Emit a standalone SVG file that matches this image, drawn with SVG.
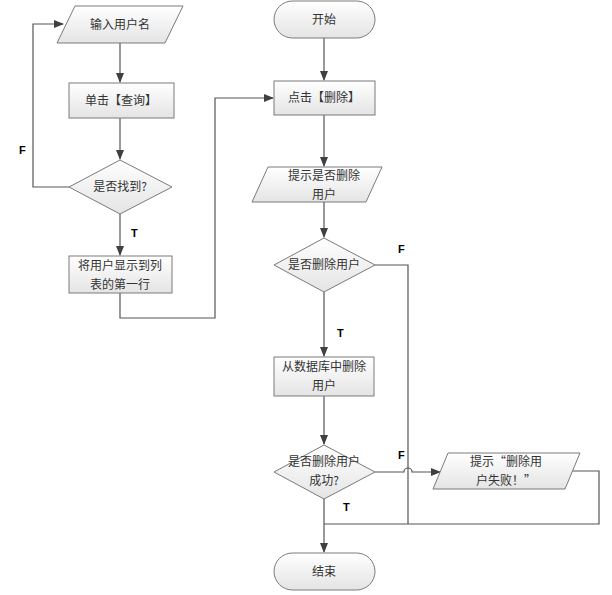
<svg xmlns="http://www.w3.org/2000/svg" width="612" height="595" viewBox="0 0 612 595">
<defs>
<linearGradient id="g" x1="0" y1="0" x2="0" y2="1">
<stop offset="0" stop-color="#ffffff"/>
<stop offset="1" stop-color="#e4e4e4"/>
</linearGradient>
<marker id="a" markerWidth="10" markerHeight="8" refX="9" refY="4" orient="auto" markerUnits="userSpaceOnUse">
<path d="M0,0 L10,4 L0,8 Z" fill="#404040"/>
</marker>
<style>
.n{fill:url(#g);stroke:#7a7a7a;stroke-width:1}
.t{font-family:"Noto Sans CJK SC","Liberation Serif",serif;font-size:12px;fill:#333;text-anchor:middle}
.l{font-family:"Liberation Sans",Arial,sans-serif;font-size:11px;font-weight:bold;fill:#000}
.c{fill:none;stroke:#555;stroke-width:1.2}
</style>
</defs>
<rect width="612" height="595" fill="#fff"/>
<g id="connectors">
<path class="c" d="M120,43 V82" marker-end="url(#a)"/>
<path class="c" d="M120,118 V159" marker-end="url(#a)"/>
<path class="c" d="M69,187 H33 V24 H63" marker-end="url(#a)"/>
<path class="c" d="M120,214 V255" marker-end="url(#a)"/>
<path class="c" d="M120,293 V318 H215 V98 H273" marker-end="url(#a)"/>
<path class="c" d="M324,38 V80" marker-end="url(#a)"/>
<path class="c" d="M324,115 V166" marker-end="url(#a)"/>
<path class="c" d="M324,202 V237" marker-end="url(#a)"/>
<path class="c" d="M375,265 H408 V524"/>
<path class="c" d="M324,292 V356" marker-end="url(#a)"/>
<path class="c" d="M324,396 V444" marker-end="url(#a)"/>
<path class="c" d="M375,472 H404 A4,4 0 0 1 412,472 H440" marker-end="url(#a)"/>
<path class="c" d="M572,471 H599 V524 H324"/>
<path class="c" d="M324,499 V552" marker-end="url(#a)"/>
<text class="l" x="19" y="154">F</text>
<text class="l" x="131" y="237">T</text>
<text class="l" x="398" y="253">F</text>
<text class="l" x="337" y="337">T</text>
<text class="l" x="398" y="459">F</text>
<text class="l" x="343" y="511">T</text>
</g>
<g id="input_username">
<path class="n" d="M75,6 H183 L165,43 H57 Z"/>
<text class="t" x="120" y="29">输入用户名</text>
</g>
<g id="click_query">
<rect class="n" x="69" y="83" width="105" height="35"/>
<text class="t" x="121" y="105">单击【查询】</text>
</g>
<g id="found">
<path class="n" d="M120,160 L172,187 L120,214 L69,187 Z"/>
<text class="t" x="120" y="191">是否找到?</text>
</g>
<g id="show_user">
<rect class="n" x="69" y="256" width="103" height="37"/>
<text class="t" x="120" y="270">将用户显示到列</text>
<text class="t" x="120" y="289">表的第一行</text>
</g>
<g id="start">
<rect class="n" x="274" y="1" width="101" height="37" rx="18.5"/>
<text class="t" x="324" y="24">开始</text>
</g>
<g id="click_delete">
<rect class="n" x="274" y="81" width="101" height="34"/>
<text class="t" x="324" y="102">点击【删除】</text>
</g>
<g id="prompt_delete">
<path class="n" d="M268,167 H382 L366,202 H252 Z"/>
<text class="t" x="324" y="180">提示是否删除</text>
<text class="t" x="324" y="199">用户</text>
</g>
<g id="confirm_delete">
<path class="n" d="M324,238 L375,265 L324,292 L274,265 Z"/>
<text class="t" x="324" y="269">是否删除用户</text>
</g>
<g id="delete_from_db">
<rect class="n" x="274" y="357" width="100" height="39"/>
<text class="t" x="324" y="371">从数据库中删除</text>
<text class="t" x="324" y="390">用户</text>
</g>
<g id="delete_success">
<path class="n" d="M324,445 L375,472 L324,499 L274,472 Z"/>
<text class="t" x="324" y="466">是否删除用户</text>
<text class="t" x="324" y="485">成功?</text>
</g>
<g id="prompt_fail">
<path class="n" d="M448,453 H580 L565,489 H433 Z"/>
<text class="t" x="506" y="466">提示“删除用</text>
<text class="t" x="506" y="485">户失败！”</text>
</g>
<g id="end">
<rect class="n" x="274" y="553" width="101" height="37" rx="18.5"/>
<text class="t" x="324" y="576">结束</text>
</g>
</svg>
